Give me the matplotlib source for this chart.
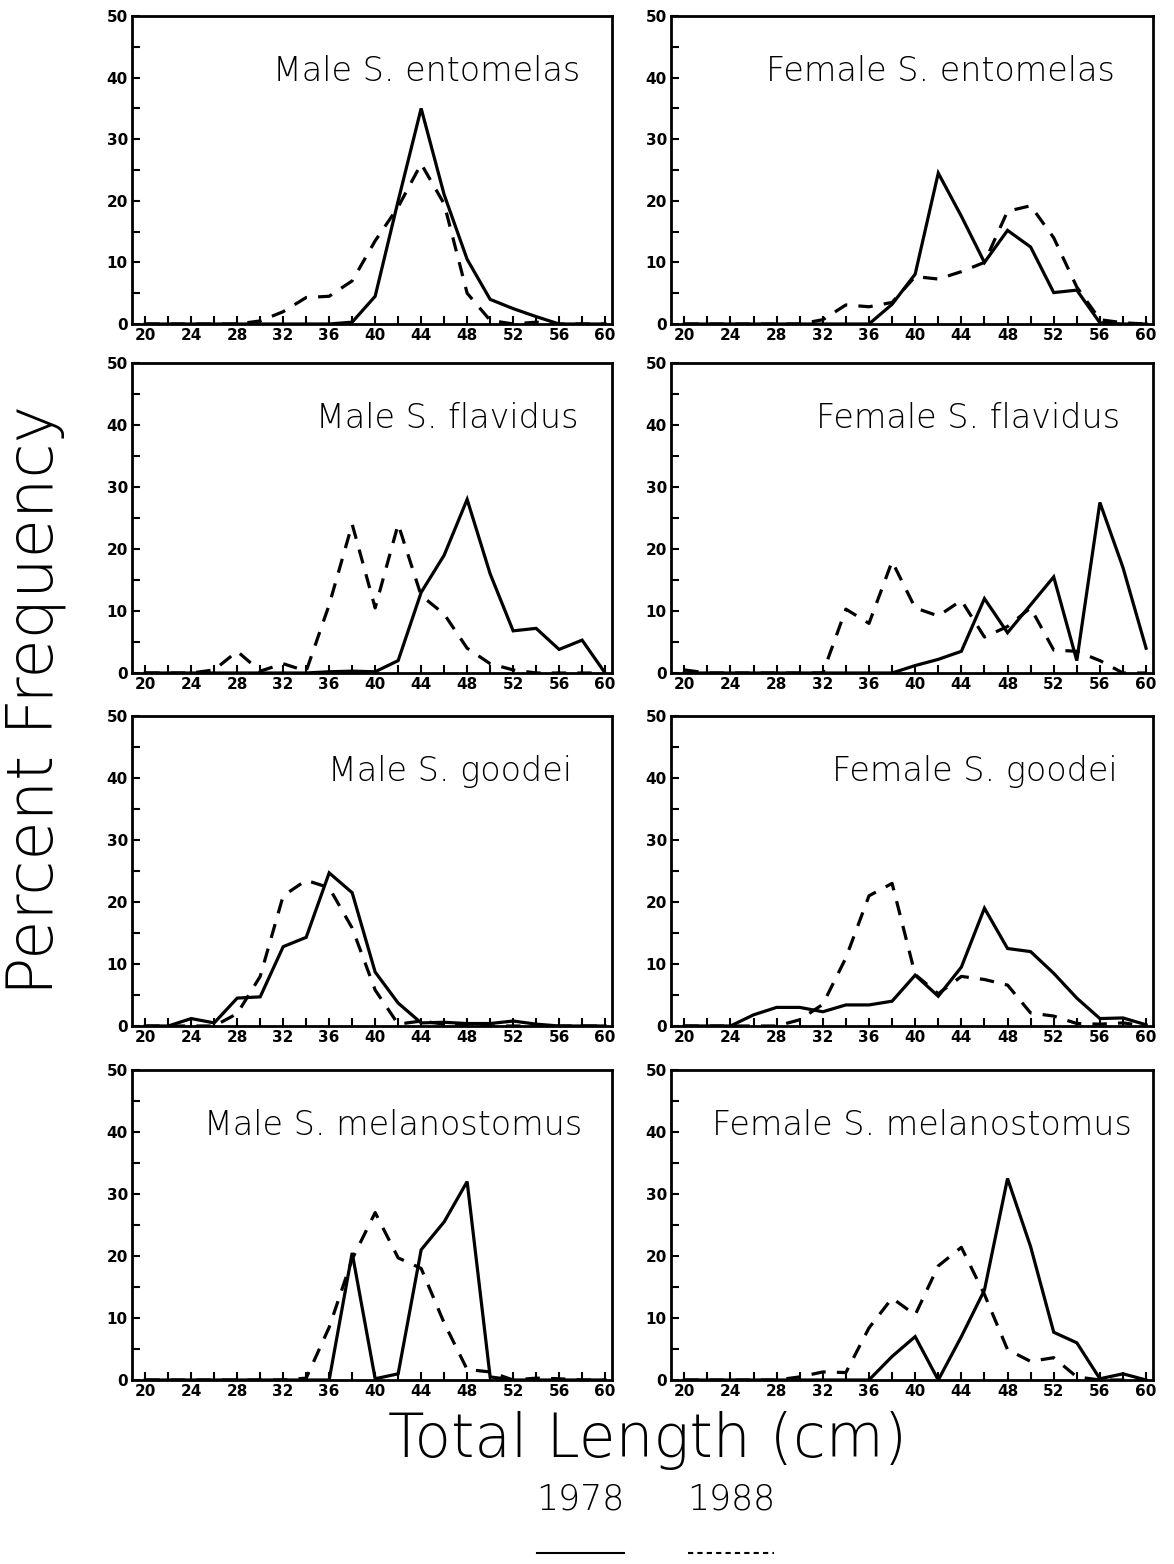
import numpy as np
import matplotlib
matplotlib.use("Agg")
import matplotlib.pyplot as plt
from matplotlib.ticker import MultipleLocator

length_cm = list(range(20, 62, 2))

titles = ["Male S. entomelas", "Female S. entomelas",
          "Male S. flavidus", "Female S. flavidus",
          "Male S. goodei", "Female S. goodei",
          "Male S. melanostomus", "Female S. melanostomus"]

#                      20  22  24  26  28  30  32  34   36   38   40   42   44   46   48   50   52   54   56   58  60
male_entomelas_1978 = [0, 0, 0, 0, 0, 0, 0, 0, 0, 0.3, 4.5, 20, 35, 21, 10.5, 4, 2.5, 1.2, 0, 0, 0]
male_entomelas_1988 = [0, 0, 0, 0, 0, 0.5, 2, 4.3, 4.5, 7, 13.5, 19, 26, 19.5, 5, 0.6, 0, 0.3, 0, 0, 0]
female_entomelas_1978 = [0, 0, 0, 0, 0, 0, 0, 0, 0, 3.2, 8.1, 24.5, 17.5, 10, 15.2, 12.5, 5.1, 5.5, 0.2, 0, 0]
female_entomelas_1988 = [0, 0, 0, 0, 0, 0, 0.7, 3.1, 2.8, 3.5, 7.7, 7.3, 8.5, 10, 18.3, 19.2, 14, 6, 0.7, 0.2, 0]
male_flavidus_1978 = [0, 0, 0, 0, 0, 0, 0, 0, 0.2, 0.3, 0.2, 2, 13, 19, 28, 16, 6.8, 7.2, 3.8, 5.3, 0]
male_flavidus_1988 = [0, 0, 0, 0.5, 3.5, 0.3, 1.5, 0.3, 11, 24, 10.5, 24, 12.5, 9.5, 4, 1.5, 0.5, 0, 0, 0, 0]
female_flavidus_1978 = [0, 0, 0, 0, 0, 0, 0, 0, 0, 0, 1.2, 2.2, 3.5, 12, 6.5, 11, 15.5, 2, 27.5, 17, 4]
female_flavidus_1988 = [0.5, 0, 0, 0, 0, 0, 0, 10.3, 8, 18, 10.5, 9.2, 11.7, 5.8, 7.5, 10.5, 3.7, 3.5, 2, 0, 0]
male_goodei_1978 = [0, 0, 1.2, 0.5, 4.5, 4.7, 12.8, 14.3, 24.7, 21.5, 8.7, 3.7, 0.5, 0.6, 0.4, 0.4, 0.8, 0.3, 0, 0, 0]
male_goodei_1988 = [0, 0, 0, 0, 2, 8, 21, 23.5, 22.3, 15.8, 5.8, 0.3, 0.8, 0.3, 0.2, 0, 0, 0, 0, 0, 0]
female_goodei_1978 = [0, 0, 0, 1.8, 3, 3, 2.3, 3.4, 3.4, 4, 8.2, 4.8, 9.5, 19, 12.5, 12, 8.5, 4.5, 1.2, 1.3, 0.2]
female_goodei_1988 = [0, 0, 0, 0, 0, 1, 3.5, 11, 21, 23, 8.3, 5.2, 8, 7.5, 6.6, 2.1, 1.6, 0.4, 0.3, 0.5, 0]
male_melanostomus_1978 = [0, 0, 0, 0, 0, 0, 0, 0, 0, 20.5, 0.2, 1, 21, 25.5, 32, 0.5, 0, 0, 0, 0, 0]
male_melanostomus_1988 = [0, 0, 0, 0, 0, 0, 0, 0.3, 8.5, 19.5, 27, 19.7, 18, 9.2, 1.7, 1.3, 0, 0.3, 0.2, 0, 0]
female_melanostomus_1978 = [0, 0, 0, 0, 0, 0, 0, 0, 0, 3.8, 7, 0, 7, 14.5, 32.5, 21.5, 7.7, 6, 0.2, 1, 0]
female_melanostomus_1988 = [0, 0, 0, 0, 0, 0.5, 1.3, 1.2, 8.4, 13.2, 10.5, 18.4, 21.4, 13.8, 4.9, 3, 3.6, 0.5, 0, 0, 0]

series_1978 = [male_entomelas_1978, female_entomelas_1978, male_flavidus_1978, female_flavidus_1978,
               male_goodei_1978, female_goodei_1978, male_melanostomus_1978, female_melanostomus_1978]
series_1988 = [male_entomelas_1988, female_entomelas_1988, male_flavidus_1988, female_flavidus_1988,
               male_goodei_1988, female_goodei_1988, male_melanostomus_1988, female_melanostomus_1988]

W, H = 1174, 1564
fig = plt.figure(figsize=(W / 100, H / 100), dpi=100)

col_lr = [(132, 612), (671, 1153)]
row_tb = [(16, 324), (363, 673), (716, 1026), (1070, 1380)]
title_x = [0.933, 0.921, 0.93, 0.931, 0.917, 0.927, 0.9375, 0.956]

for i in range(8):
    r, c = divmod(i, 2)
    l, rr = col_lr[c]
    t, b = row_tb[r]
    ax = fig.add_axes([l / W, 1 - b / H, (rr - l) / W, (b - t) / H])
    ax.plot(length_cm, series_1978[i], color="black", lw=2.3, solid_joinstyle="miter", zorder=2)
    ax.plot(length_cm, series_1988[i], color="black", lw=2.3, dashes=(4.5, 3.5), zorder=2)
    ax.set_xlim(18.85, 60.6)
    ax.set_ylim(0, 50)
    ax.xaxis.set_major_locator(MultipleLocator(4))
    ax.xaxis.set_minor_locator(MultipleLocator(2))
    ax.yaxis.set_major_locator(MultipleLocator(10))
    ax.yaxis.set_minor_locator(MultipleLocator(5))
    ax.tick_params(which="both", direction="in", length=6, width=1.5, top=False, right=False)
    ax.tick_params(axis="both", which="major", labelsize=11, pad=3)
    for lab in ax.get_xticklabels() + ax.get_yticklabels():
        lab.set_fontweight("bold")
    for sp in ax.spines.values():
        sp.set_linewidth(2.0)
        sp.set_zorder(3)
    ax.text(title_x[i], 0.82, titles[i], transform=ax.transAxes, ha="right", va="center",
            fontsize=24, fontweight="light")

fig.text(35 / W, 1 - 700 / H, "Percent Frequency", rotation=90, ha="center", va="center",
         fontsize=46, fontweight="light")
fig.text(648 / W, 1 - 1440 / H, "Total Length (cm)", ha="center", va="center",
         fontsize=43, fontweight="light")
fig.text(580 / W, 1 - 1500 / H, "1978", ha="center", va="center", fontsize=25, fontweight="light")
fig.text(731 / W, 1 - 1500 / H, "1988", ha="center", va="center", fontsize=25, fontweight="light")
fig.add_artist(plt.Line2D([537 / W, 624 / W], [1 - 1553 / H, 1 - 1553 / H], color="black", lw=1.5))
fig.add_artist(plt.Line2D([688 / W, 774 / W], [1 - 1553 / H, 1 - 1553 / H], color="black", lw=1.5,
                          dashes=(2.5, 2)))

fig.savefig("out.png", dpi=100)
